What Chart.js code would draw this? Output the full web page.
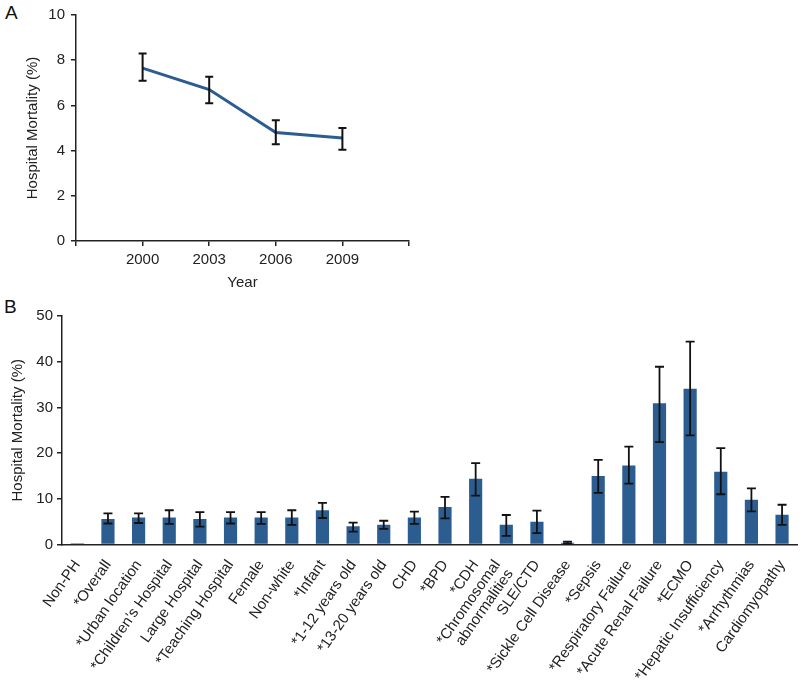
<!DOCTYPE html>
<html>
<head>
<meta charset="utf-8">
<script src="https://cdn.jsdelivr.net/npm/chart.js@4.4.0/dist/chart.umd.min.js"></script>
<style>
  body { margin: 0; background: #fff; width: 800px; height: 682px; position: relative; overflow: hidden; font-family: "Liberation Sans", Arial, sans-serif; }
  .panel { position: absolute; }
  .tag { position: absolute; font-size: 19px; color: #111; }
</style>
</head>
<body>
<div class="tag" style="left:5px; top:2px;">A</div>
<div class="tag" style="left:4px; top:296px;">B</div>
<div class="panel" style="left:0; top:0;"><canvas id="chartA" width="420" height="300"></canvas></div>
<div class="panel" style="left:0; top:300px;"><canvas id="chartB" width="800" height="382"></canvas></div>
<script>
// panel A - mortality by year
const years = [2000, 2003, 2006, 2009];
const yearMortality = [7.65, 6.70, 4.80, 4.56];
const yearLow = [7.09, 6.10, 4.28, 4.04];
const yearHigh = [8.30, 7.27, 5.34, 5.00];

// panel B - mortality by group
const groups = ['Non-PH', '*Overall', '*Urban location', '*Children\u2019s Hospital', 'Large Hospital',
  '*Teaching Hospital', 'Female', 'Non-white', '*Infant', '*1-12 years old', '*13-20 years old',
  'CHD', '*BPD', '*CDH', ['*Chromosomal', 'abnormalities'], 'SLE/CTD', '*Sickle Cell Disease',
  '*Sepsis', '*Respiratory Failure', '*Acute Renal Failure', '*ECMO', '*Hepatic Insufficiency',
  '*Arrhythmias', 'Cardiomyopathy'];
const groupMortality = [0.3, 5.6, 5.9, 5.9, 5.6, 5.9, 5.9, 5.9, 7.5, 4.0, 4.3,
  5.9, 8.2, 14.4, 4.3, 5.0, 0.4, 15.0, 17.3, 30.9, 34.1, 15.9, 9.8, 6.5];
const groupLow = [null, 4.6, 4.7, 4.5, 3.9, 4.6, 4.5, 4.3, 5.8, 2.8, 3.4,
  4.5, 5.7, 10.7, 1.9, 2.5, 0.2, 11.3, 13.3, 22.4, 23.9, 11.0, 7.25, 4.3];
const groupHigh = [null, 6.8, 6.8, 7.5, 7.1, 7.1, 7.1, 7.5, 9.1, 4.8, 5.2,
  7.2, 10.4, 17.8, 6.45, 7.4, 0.65, 18.5, 21.4, 38.9, 44.4, 21.1, 12.3, 8.7];

const FONT = {family: '"Liberation Sans", Arial, sans-serif', size: 15};
const INK = '#222';
const BLUE = '#2c5d90';

// draws error bars using the chart's own scales
function errorBars(lows, highs, xs, cap, lw) {
  return {
    id: 'errorBars',
    afterDatasetsDraw(chart) {
      const c = chart.ctx, sx = chart.scales.x, sy = chart.scales.y;
      c.save();
      c.strokeStyle = '#111';
      c.lineWidth = lw;
      for (let i = 0; i < lows.length; i++) {
        if (lows[i] == null) continue;
        const x = sx.getPixelForValue(xs[i]);
        const y1 = sy.getPixelForValue(lows[i]);
        const y2 = sy.getPixelForValue(highs[i]);
        c.beginPath();
        c.moveTo(x, y1); c.lineTo(x, y2);
        c.moveTo(x - cap / 2, y1); c.lineTo(x + cap / 2, y1);
        c.moveTo(x - cap / 2, y2); c.lineTo(x + cap / 2, y2);
        c.stroke();
      }
      c.restore();
    }
  };
}

// the two-line label sits a bit more to the left in the original
const nudgeLabel = {
  id: 'nudgeLabel',
  beforeDraw(chart) {
    const items = chart.scales.x.getLabelItems();
    items.forEach(it => {
      if (Array.isArray(it.label) && !it._nudged) {
        it.options.translation[0] -= 9;
        it._nudged = true;
      }
    });
  }
};

var chartA = new Chart(document.getElementById('chartA'), {
  type: 'line',
  data: {
    datasets: [{
      data: years.map((y, i) => ({x: y, y: yearMortality[i]})),
      borderColor: BLUE,
      borderWidth: 3,
      pointRadius: 0,
      fill: false,
      tension: 0
    }]
  },
  options: {
    responsive: false,
    animation: false,
    layout: {padding: {top: 13, right: 11, left: 0, bottom: 0}},
    plugins: {legend: {display: false}, tooltip: {enabled: false}},
    scales: {
      x: {
        type: 'linear', min: 1997, max: 2012,
        afterFit: s => { s.height = 59; },
        ticks: {
          stepSize: 3, color: INK, font: FONT, padding: 5, maxRotation: 0,
          callback: v => (v === 1997 || v === 2012) ? '' : String(v)
        },
        grid: {drawOnChartArea: false, drawTicks: true, tickLength: 5, color: INK, lineWidth: 1.5},
        border: {display: true, color: INK, width: 1.5},
        title: {display: true, text: 'Year', color: INK, font: FONT, padding: {bottom: 8, top: 0}}
      },
      y: {
        min: 0, max: 10,
        afterFit: s => { s.width = 76; },
        ticks: {stepSize: 2, color: INK, font: FONT, padding: 6},
        grid: {drawOnChartArea: false, drawTicks: true, tickLength: 5, color: INK, lineWidth: 1.5},
        border: {display: true, color: INK, width: 1.5},
        title: {display: true, text: 'Hospital Mortality (%)', color: INK, font: FONT, padding: {top: 24, bottom: 0}}
      }
    }
  },
  plugins: [errorBars(yearLow, yearHigh, years, 8, 2)]
});

var chartB = new Chart(document.getElementById('chartB'), {
  type: 'bar',
  data: {
    labels: groups,
    datasets: [{
      data: groupMortality,
      backgroundColor: BLUE,
      borderWidth: 0,
      categoryPercentage: 1,
      barPercentage: 0.43
    }]
  },
  options: {
    responsive: false,
    animation: false,
    layout: {padding: {top: 16, right: 2, left: 0, bottom: 0}},
    plugins: {legend: {display: false}, tooltip: {enabled: false}},
    scales: {
      x: {
        afterFit: s => { s.height = 137.5; },
        ticks: {color: INK, font: {...FONT, lineHeight: 1.05}, padding: 5, minRotation: 55, maxRotation: 55, autoSkip: false},
        grid: {display: false},
        border: {display: true, color: INK, width: 1.5}
      },
      y: {
        min: 0, max: 50,
        afterFit: s => { s.width = 62; },
        ticks: {stepSize: 10, color: INK, font: FONT, padding: 4},
        grid: {drawOnChartArea: false, drawTicks: true, tickLength: 5, color: INK, lineWidth: 1.5},
        border: {display: true, color: INK, width: 1.5},
        title: {display: true, text: 'Hospital Mortality (%)', color: INK, font: FONT, padding: {top: 9, bottom: 0}}
      }
    }
  },
  plugins: [errorBars(groupLow, groupHigh, groups.map((g, i) => i), 9, 1.8), nudgeLabel]
});
</script>
</body>
</html>
